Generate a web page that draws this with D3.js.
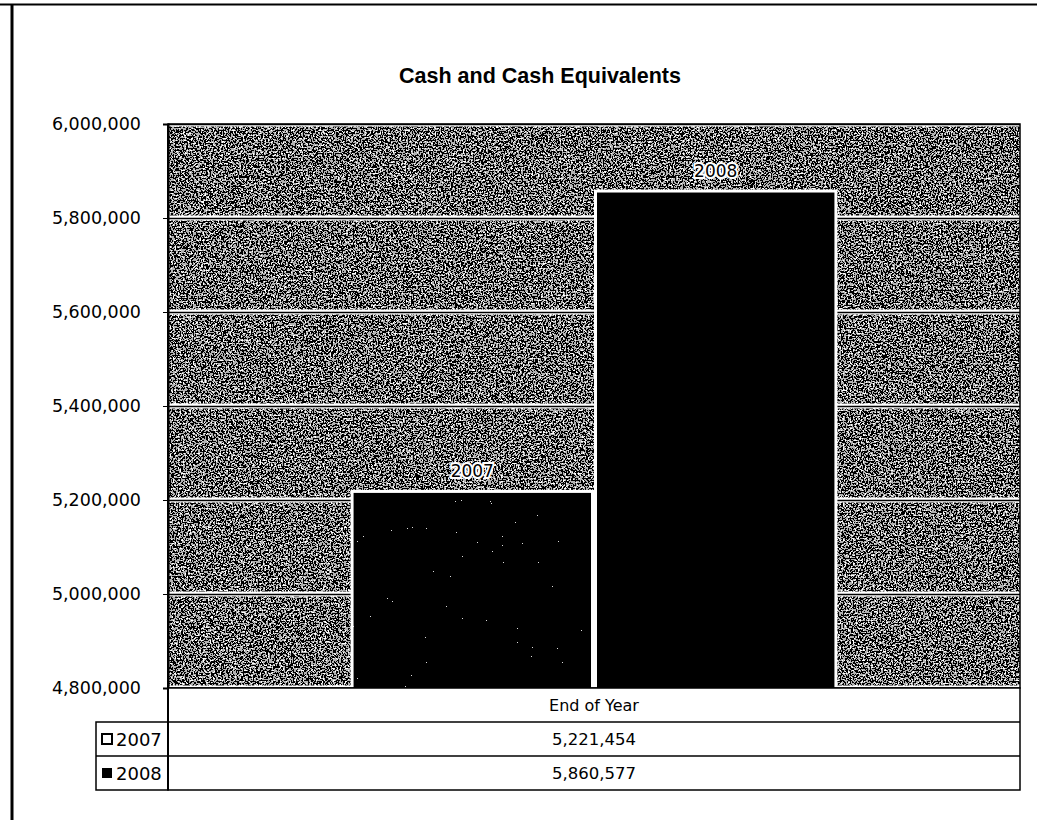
<!DOCTYPE html>
<html>
<head>
<meta charset="utf-8">
<script src="https://cdn.jsdelivr.net/npm/d3@7"></script>
<style>
  body { margin: 0; background: #fff; }
  svg { display: block; }
  text { font-family: "DejaVu Sans", Verdana, sans-serif; fill: #000; }
</style>
</head>
<body>
<div id="chart"></div>
<script>
// chart values
var categories = ['End of Year'];
var seriesNames = ['2007', '2008'];
var seriesValues = [5221454, 5860577];
var yDomain = [4800000, 6000000];
var chartTitle = 'Cash and Cash Equivalents';

var width = 1037, height = 820;
var plot = {left: 168, right: 1020, top: 124, bottom: 688};
var rowH = 34;
var legendLeft = 96;

var svg = d3.select('#chart').append('svg')
  .attr('width', width)
  .attr('height', height);

var defs = svg.append('defs');

// speckled scan-like texture for the plot background
function addNoise(id, freq, table, seed) {
  var f = defs.append('filter').attr('id', id)
    .attr('filterUnits', 'userSpaceOnUse')
    .attr('x', 0).attr('y', 0).attr('width', width).attr('height', height);
  f.append('feTurbulence').attr('type', 'fractalNoise')
    .attr('baseFrequency', freq).attr('numOctaves', 2).attr('seed', seed)
    .attr('result', 'noise');
  f.append('feColorMatrix').attr('in', 'noise').attr('type', 'matrix')
    .attr('values', '0 1 0 0 0  0 1 0 0 0  0 1 0 0 0  0 0 0 0 1')
    .attr('result', 'gray');
  var ct = f.append('feComponentTransfer').attr('in', 'gray').attr('result', 'bw');
  ['feFuncR', 'feFuncG', 'feFuncB'].forEach(function(fn) {
    ct.append(fn).attr('type', 'discrete').attr('tableValues', table);
  });
  f.append('feComposite').attr('in', 'bw').attr('in2', 'SourceGraphic')
    .attr('operator', 'in');
}
addNoise('bgNoise', 0.6, '0 0 0 0.45 1 1', 4);
addNoise('barNoise', 0.8, '0 0 0 0 0 0.7', 9);

var x = d3.scaleBand().domain(categories)
  .range([plot.left, plot.right]).padding(0);
var xs = d3.scaleBand().domain(seriesNames)
  .range([0, x.bandwidth()]).paddingInner(0).paddingOuter(0.75);
var y = d3.scaleLinear().domain(yDomain).range([plot.bottom, plot.top]);
var fmt = d3.format(',');

// outer frame
svg.append('line').attr('x1', 0).attr('x2', width).attr('y1', 4.5).attr('y2', 4.5)
  .attr('stroke', '#000').attr('stroke-width', 2);
svg.append('line').attr('x1', 12).attr('x2', 12).attr('y1', 4).attr('y2', height)
  .attr('stroke', '#000').attr('stroke-width', 3);

// title
svg.append('text')
  .attr('x', 540).attr('y', 83)
  .attr('text-anchor', 'middle')
  .style('font-family', '"Liberation Sans", Arial, sans-serif')
  .style('font-size', '21.5px').style('font-weight', 'bold')
  .text(chartTitle);

// plot background
svg.append('rect')
  .attr('x', plot.left).attr('y', plot.top)
  .attr('width', plot.right - plot.left).attr('height', plot.bottom - plot.top)
  .attr('fill', '#fff')
  .attr('filter', 'url(#bgNoise)');

// gridlines
var ticks = y.ticks(6);
var grid = svg.append('g');
grid.selectAll('line.halo').data(ticks).enter().append('line')
  .attr('class', 'halo')
  .attr('x1', plot.left).attr('x2', plot.right)
  .attr('y1', function(d) { return y(d); }).attr('y2', function(d) { return y(d); })
  .attr('stroke', '#fff').attr('stroke-width', 5);
grid.selectAll('line.rule').data(ticks).enter().append('line')
  .attr('class', 'rule')
  .attr('x1', plot.left).attr('x2', plot.right)
  .attr('y1', function(d) { return y(d) + 0.5; }).attr('y2', function(d) { return y(d) + 0.5; })
  .attr('stroke', '#000').attr('stroke-width', 1.5);

// bars
var bars = svg.append('g');
seriesNames.forEach(function(name, i) {
  var bx = x(categories[0]) + xs(name);
  var by = y(seriesValues[i]);
  var bh = y(yDomain[0]) - by;
  bars.append('rect')
    .attr('x', bx).attr('y', by)
    .attr('width', xs.bandwidth()).attr('height', bh)
    .attr('fill', '#fff');
  var inner = bars.append('rect')
    .attr('x', bx + 3).attr('y', by + 3)
    .attr('width', xs.bandwidth() - 6).attr('height', bh - 3)
    .attr('fill', i === 0 ? '#fff' : '#000');
  if (i === 0) {
    inner.attr('filter', 'url(#barNoise)');
  }
  bars.append('text')
    .attr('x', bx + xs.bandwidth() / 2).attr('y', by - 13)
    .attr('text-anchor', 'middle')
    .style('font-size', '17px')
    .style('stroke', '#fff').style('stroke-width', 4)
    .style('paint-order', 'stroke')
    .text(name);
});

// plot frame
svg.append('rect')
  .attr('x', plot.left).attr('y', plot.top)
  .attr('width', plot.right - plot.left).attr('height', plot.bottom - plot.top)
  .attr('fill', 'none').attr('stroke', '#000').attr('stroke-width', 1.5);

// y axis
var yAxis = svg.append('g')
  .attr('transform', 'translate(' + plot.left + ',0)')
  .call(d3.axisLeft(y).tickValues(ticks).tickFormat(fmt).tickSize(5).tickPadding(22));
yAxis.select('.domain').attr('stroke-width', 2);
yAxis.selectAll('text').style('font-size', '17.5px').attr('fill', '#000')
  .attr('font-family', null);

// data table
var table = svg.append('g');
var tableTop = plot.bottom;
table.append('rect')
  .attr('x', plot.left).attr('y', tableTop)
  .attr('width', plot.right - plot.left).attr('height', rowH * 3)
  .attr('fill', '#fff').attr('stroke', '#000').attr('stroke-width', 1.5);
table.append('rect')
  .attr('x', legendLeft).attr('y', tableTop + rowH)
  .attr('width', plot.left - legendLeft).attr('height', rowH * 2)
  .attr('fill', '#fff').attr('stroke', '#000').attr('stroke-width', 1.5);
table.selectAll('line.row').data(seriesNames).enter().append('line')
  .attr('class', 'row')
  .attr('x1', function(d, i) { return i === 0 ? plot.left : legendLeft; })
  .attr('x2', plot.right)
  .attr('y1', function(d, i) { return tableTop + rowH * (i + 1); })
  .attr('y2', function(d, i) { return tableTop + rowH * (i + 1); })
  .attr('stroke', '#000').attr('stroke-width', 1.5);
table.append('line')
  .attr('x1', plot.left).attr('x2', plot.left)
  .attr('y1', plot.top).attr('y2', tableTop + rowH * 3)
  .attr('stroke', '#000').attr('stroke-width', 2);

table.selectAll('text.head').data(categories).enter().append('text')
  .attr('class', 'head')
  .attr('x', function(d) { return x(d) + x.bandwidth() / 2; })
  .attr('y', tableTop + rowH / 2 + 6)
  .attr('text-anchor', 'middle')
  .style('font-size', '16px')
  .text(function(d) { return d; });

seriesNames.forEach(function(name, i) {
  var rowY = tableTop + rowH * (i + 1);
  table.append('text')
    .attr('x', x(categories[0]) + x.bandwidth() / 2)
    .attr('y', rowY + rowH / 2 + 6)
    .attr('text-anchor', 'middle')
    .style('font-size', '16.5px')
    .text(fmt(seriesValues[i]));
  // legend key
  table.append('rect')
    .attr('x', legendLeft + 6).attr('y', rowY + 12)
    .attr('width', 10).attr('height', 10)
    .attr('fill', i === 0 ? '#fff' : '#000')
    .attr('stroke', '#000').attr('stroke-width', i === 0 ? 2 : 0);
  table.append('text')
    .attr('x', legendLeft + 20)
    .attr('y', rowY + rowH / 2 + 7)
    .style('font-size', '18px')
    .text(name);
});
</script>
</body>
</html>
